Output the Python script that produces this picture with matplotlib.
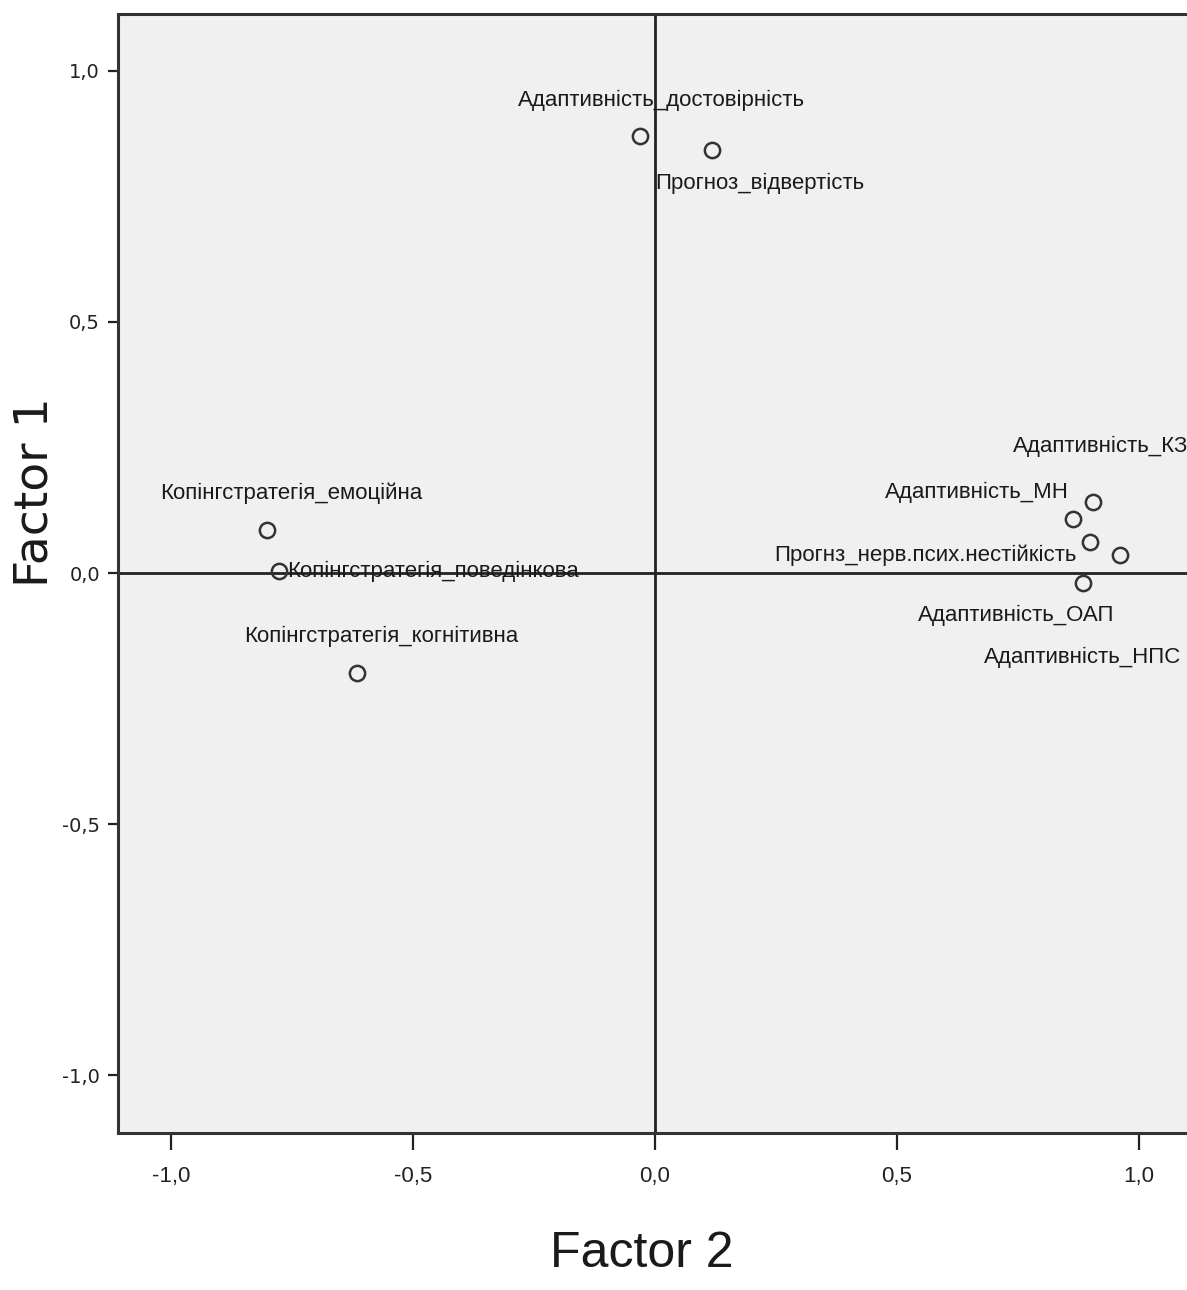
import matplotlib
matplotlib.use("Agg")
import matplotlib.pyplot as plt


# factor loadings (Factor 2 on x, Factor 1 on y)
names = [
    "Адаптивність_достовірність",
    "Прогноз_відвертість",
    "Копінгстратегія_емоційна",
    "Копінгстратегія_поведінкова",
    "Копінгстратегія_когнітивна",
    "Адаптивність_КЗ",
    "Адаптивність_МН",
    "Прогнз_нерв.псих.нестійкість",
    "Адаптивність_НПС",
    "Адаптивність_ОАП",
]
factor2 = [-0.031, 0.118, -0.802, -0.777, -0.616, 0.905, 0.864, 0.899, 0.961, 0.884]
factor1 = [0.870, 0.843, 0.086, 0.004, -0.199, 0.141, 0.108, 0.062, 0.036, -0.020]

tick_vals = [-1.0, -0.5, 0.0, 0.5, 1.0]
tick_text = ["-1,0", "-0,5", "0,0", "0,5", "1,0"]

# label placement: (dx, dy) in pixels from the point, horizontal alignment
label_style = [
    (22, 36, "center"),
    (-57, -34, "left"),
    (24, 37, "center"),
    (8, 0, "left"),
    (24, 37, "center"),
    (-80, 56, "left"),
    (-4, 26, "right"),
    (-13, -13, "right"),
    (61, -102, "right"),
    (32, -32, "right"),
]

sans = ["Liberation Sans", "DejaVu Sans"]

fig = plt.figure(figsize=(11.87, 12.90), dpi=100, facecolor="white")
ax = fig.add_axes([0.0994, 0.1217, 0.9006, 0.8674])
ax.set_facecolor("#f0f0f0")

ax.axhline(0, color="#222222", lw=2, zorder=1)
ax.axvline(0, color="#222222", lw=2, zorder=1)

ax.plot(factor2, factor1, "o", ms=11, mfc="none", mec="#333333", mew=1.8, zorder=3)

for name, x, y, (dx, dy, ha) in zip(names, factor2, factor1, label_style):
    ax.annotate(name, (x, y), xytext=(dx * 0.72, dy * 0.72), textcoords="offset points",
                ha=ha, va="center", fontsize=16, family=sans, color="#1a1a1a", zorder=4)

ax.set_xlim(-1.11, 1.10)
ax.set_ylim(-1.115, 1.113)

ax.set_xticks(tick_vals)
ax.set_xticklabels(tick_text, family=sans, fontsize=16)
ax.set_yticks(tick_vals)
ax.set_yticklabels(tick_text, fontsize=14)
ax.tick_params(axis="x", direction="out", length=12, width=1.6, pad=12, colors="#222222")
ax.tick_params(axis="y", direction="out", length=7, width=1.6, pad=6, colors="#222222")

for side in ["left", "bottom", "top"]:
    ax.spines[side].set_linewidth(2.2)
    ax.spines[side].set_color("#333333")
ax.spines["right"].set_visible(False)

fig.text(642 / 1187, 1 - 1254 / 1290, "Factor 2", family=sans, fontsize=36,
         ha="center", va="center", color="#1a1a1a")
fig.text(35 / 1187, 1 - 492 / 1290, "Factor 1", fontsize=34, rotation=90,
         ha="center", va="center", color="#1a1a1a")

fig.savefig("out.png", dpi=100, facecolor="white")
